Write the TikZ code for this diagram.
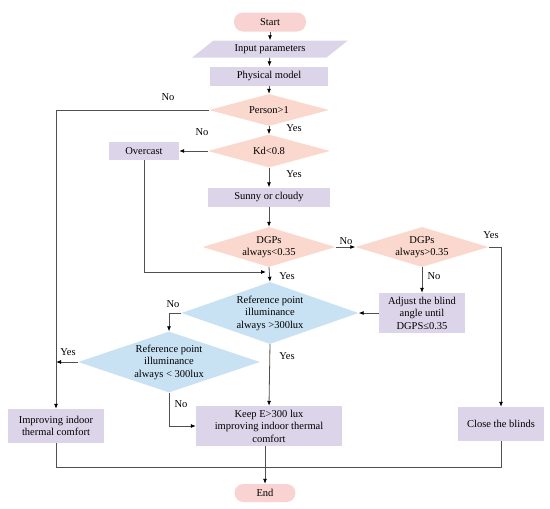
\documentclass[tikz,border=0pt]{standalone}
\usepackage{fontspec}
\setmainfont{Liberation Serif}
\usetikzlibrary{arrows.meta, positioning, shapes.geometric}

\definecolor{termpink}{HTML}{F9D3D2}
\definecolor{decpink}{HTML}{FBD8CD}
\definecolor{boxlav}{HTML}{DCD5EA}
\definecolor{decblue}{HTML}{C8E2F3}
\definecolor{linegray}{HTML}{505050}

\tikzset{
  base/.style={inner sep=1pt, font=\fontsize{10.5}{12.5}\selectfont, align=center},
  term/.style={base, draw=none, fill=termpink, rounded corners=9pt, minimum height=19pt},
  proc/.style={base, fill=boxlav, minimum height=19pt},
  inbox/.style={base, fill=boxlav, trapezium, trapezium left angle=39,
    trapezium right angle=141, trapezium stretches=true, minimum height=17pt},
  dec/.style={shape=diamond, inner sep=0pt, fill=decpink},
  decb/.style={shape=diamond, inner sep=0pt, fill=decblue},
  flow/.style={draw=linegray, line width=0.8pt, -{Latex[length=5pt,width=4pt,color=black]}},
  wire/.style={draw=linegray, line width=0.8pt},
  lbl/.style={base, font=\fontsize{10.5}{12.5}\selectfont}
}

\begin{document}
\begin{tikzpicture}[x=1pt, y=-1pt]
  \useasboundingbox (0,0) rectangle (550,509);

  % terminals and process boxes
  \node[term, minimum width=72pt] (start) at (270,22) {Start};
  \node[inbox, minimum width=157pt] (input) at (270,49) {Input parameters};
  \node[proc, minimum width=118pt] (model) at (269,76) {Physical model};
  \node[proc, minimum width=70pt, minimum height=18pt] (overcast) at (144,151) {Overcast};
  \node[proc, minimum width=122pt] (sunny) at (269,197) {Sunny or cloudy};
  \node[proc, minimum width=86pt, minimum height=40pt] (adjust) at (422,313) {Adjust the blind\\angle until\\DGPS≤0.35};
  \node[proc, minimum width=96pt, minimum height=34pt] (improve) at (56,426) {Improving indoor\\thermal comfort};
  \node[proc, minimum width=146pt, minimum height=40pt] (keep) at (269,426) {Keep E>300 lux\\improving indoor thermal\\comfort};
  \node[proc, minimum width=86pt, minimum height=34pt] (close) at (501,424) {Close the blinds};
  \node[term, minimum width=61pt, minimum height=18pt] (end) at (265,493) {End};

  % decisions
  \node[dec, minimum width=120pt, minimum height=32pt, label={[base]center:Person>1}] (person) at (269,110) {};
  \node[dec, minimum width=122pt, minimum height=33pt, label={[base]center:Kd<0.8}] (kd) at (269,151) {};
  \node[dec, minimum width=133pt, minimum height=40pt, label={[base]center:DGPs\\always<0.35}] (dgpa) at (269,247) {};
  \node[dec, minimum width=133pt, minimum height=40pt, label={[base]center:DGPs\\always>0.35}] (dgpb) at (422,247) {};
  \node[decb, minimum width=177pt, minimum height=62pt, label={[base]center:Reference point\\illuminance\\always >300lux}] (refhi) at (270,313) {};
  \node[decb, minimum width=182pt, minimum height=61pt, label={[base]center:Reference point\\illuminance\\always < 300lux}] (reflo) at (169,362) {};

  % helper points
  \coordinate (join) at (266,272);
  \coordinate (merge) at (266,467);

  % main column
  \draw[flow] (start) -- (input);
  \draw[flow] (input) -- (model);
  \draw[flow] (model) -- (person);
  \draw[flow] (person) -- (kd);
  \draw[flow] (kd) -- (sunny);
  \draw[flow] (sunny) -- (dgpa);
  \draw[flow] (dgpa.south) -- (refhi.north);
  \draw[flow] (refhi.south) -- (keep.north);
  \draw[flow] (keep.south -| end.north) -- (end.north);

  % branches
  \draw[flow] (person.west) -| (improve.north);
  \draw[flow] (kd.west) -- (overcast.east);
  \draw[flow] (overcast.south) |- (join);
  \draw[flow] (dgpa.east) -- (dgpb.west);
  \draw[flow] (dgpb.south) -- (adjust.north);
  \draw[flow] (dgpb.east) -| (close.north);
  \draw[flow] (adjust.west) -- (refhi.east);
  \draw[flow] (refhi.west) -| (reflo.north);
  \draw[flow] (reflo.west) -- (reflo.west -| improve.north);
  \draw[flow] (reflo.south) |- (keep.west);
  \draw[wire] (improve.south) |- (merge);
  \draw[wire] (close.south) |- (merge);

  % branch labels
  \node[lbl] (nperson) at (168,97) {No};
  \node[lbl] (yperson) at (294,128) {Yes};
  \node[lbl] (nkd) at (202,132) {No};
  \node[lbl] (ykd) at (294,174) {Yes};
  \node[lbl] (ydgpa) at (287,276) {Yes};
  \node[lbl] (ndgpa) at (346,241) {No};
  \node[lbl] (ydgpb) at (491,235) {Yes};
  \node[lbl] (ndgpb) at (434,276) {No};
  \node[lbl] (nrefhi) at (173,304) {No};
  \node[lbl] (yrefhi) at (287,356) {Yes};
  \node[lbl] (yreflo) at (68,352) {Yes};
  \node[lbl] (nreflo) at (181,404) {No};
\end{tikzpicture}
\end{document}
